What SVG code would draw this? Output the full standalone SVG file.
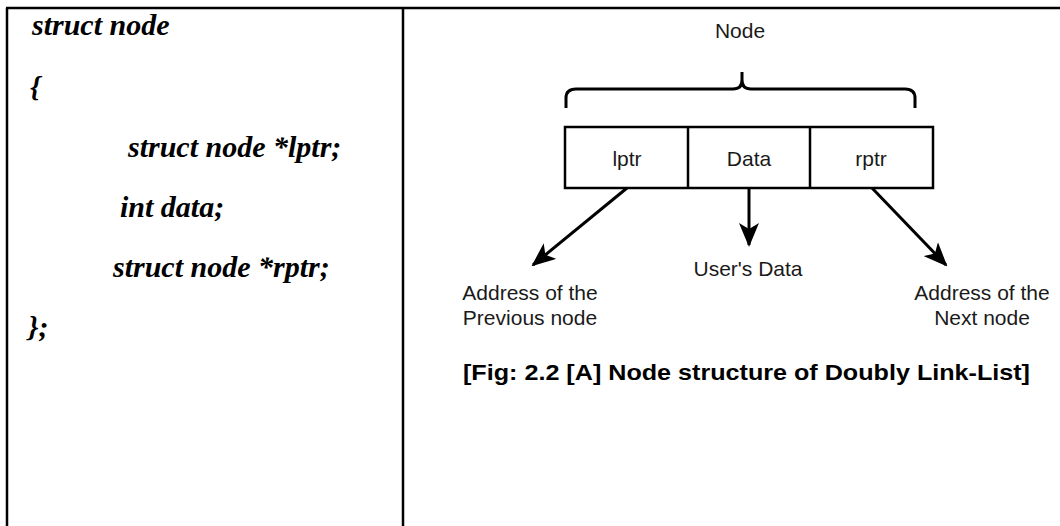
<svg xmlns="http://www.w3.org/2000/svg" width="1060" height="526" viewBox="0 0 1060 526">
<style>
.frame{stroke:#000;stroke-width:2.5;fill:none}
.code{font-family:"Liberation Serif","Times New Roman",serif;font-weight:bold;font-style:italic;font-size:30px;fill:#000}
.lbl{font-family:"Liberation Sans",Arial,sans-serif;font-size:21px;fill:#1a1a1a}
.mid{text-anchor:middle}
.cell{fill:#fff;stroke:#000;stroke-width:2.5}
.conn{stroke:#000;stroke-width:3;fill:none}
.cap{font-family:"Liberation Sans",Arial,sans-serif;font-weight:bold;font-size:22px;fill:#000}
</style>
<defs>
<marker id="arr" viewBox="0 0 24 20" refX="22" refY="10" markerWidth="24" markerHeight="20" markerUnits="userSpaceOnUse" orient="auto">
<path d="M0,0 L24,10 L0,20 L6,10 Z" fill="#000"/>
</marker>
</defs>
<rect width="1060" height="526" fill="#fff"/>
<g id="table">
<line class="frame" x1="6" y1="8" x2="1060" y2="8"/>
<line class="frame" x1="7" y1="8" x2="7" y2="526"/>
<line class="frame" x1="403" y1="8" x2="403" y2="526"/>
</g>
<g id="code">
<text class="code" x="32" y="35">struct node</text>
<text class="code" x="30" y="97">{</text>
<text class="code" x="128" y="157">struct node *lptr;</text>
<text class="code" x="120" y="217">int data;</text>
<text class="code" x="113" y="277">struct node *rptr;</text>
<text class="code" x="28" y="337">};</text>
</g>
<g id="node-label">
<text class="lbl mid" x="740" y="38">Node</text>
<path class="conn" stroke-width="2.5" d="M566,108 V98 Q566,89 576,89 H733 Q742,89 742,80 V72 M742,80 Q742,89 751,89 H905 Q915,89 915,98 V108"/>
</g>
<g id="node-box">
<rect class="cell" x="565" y="127" width="368" height="61"/>
<line class="cell" x1="688" y1="127" x2="688" y2="188"/>
<line class="cell" x1="810" y1="127" x2="810" y2="188"/>
<text class="lbl mid" x="627" y="166">lptr</text>
<text class="lbl mid" x="749" y="166">Data</text>
<text class="lbl mid" x="871" y="166">rptr</text>
</g>
<g id="connectors">
<line class="conn" x1="627" y1="188" x2="533" y2="265" marker-end="url(#arr)"/>
<line class="conn" x1="749" y1="188" x2="749" y2="245" marker-end="url(#arr)"/>
<line class="conn" x1="872" y1="188" x2="946" y2="265" marker-end="url(#arr)"/>
</g>
<g id="prev">
<text class="lbl mid" x="530" y="300">Address of the</text>
<text class="lbl mid" x="530" y="325">Previous node</text>
</g>
<g id="userdata">
<text class="lbl mid" x="748" y="276">User's Data</text>
</g>
<g id="next">
<text class="lbl mid" x="982" y="300">Address of the</text>
<text class="lbl mid" x="982" y="325">Next node</text>
</g>
<g id="caption">
<text class="cap" x="463" y="380" textLength="567" lengthAdjust="spacingAndGlyphs">[Fig: 2.2 [A] Node structure of Doubly Link-List]</text>
</g>
</svg>
